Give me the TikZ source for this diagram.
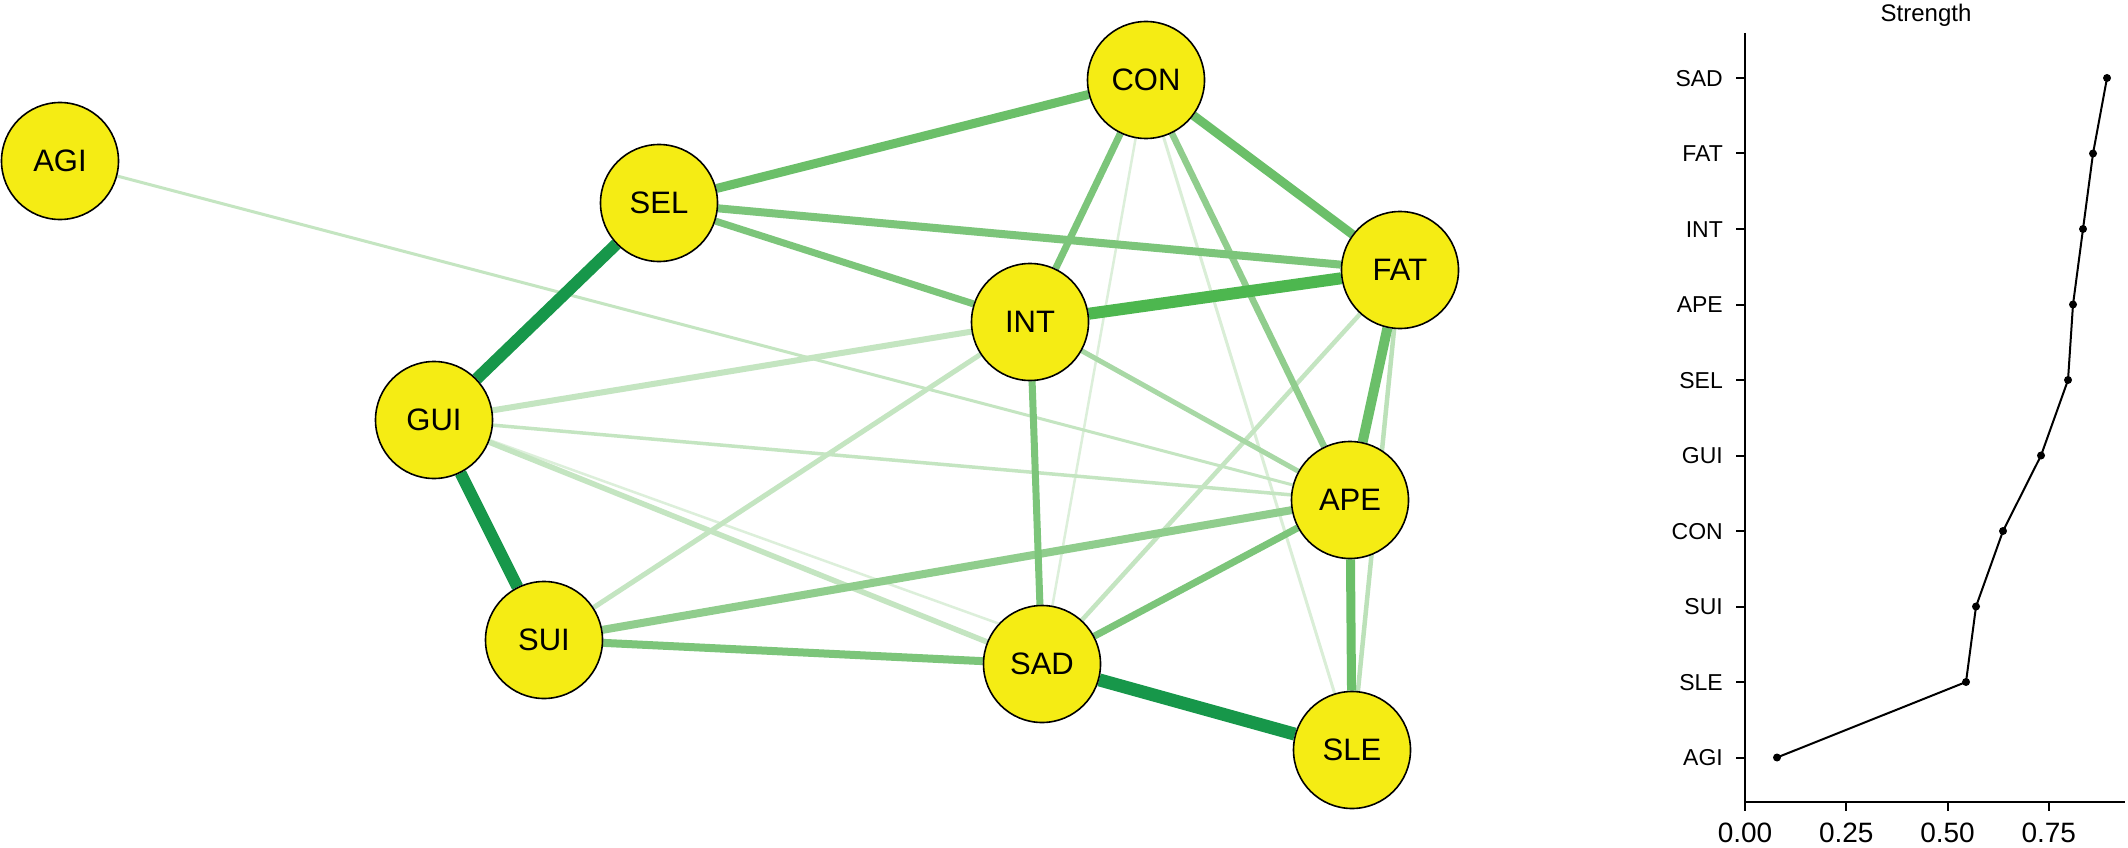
\documentclass[tikz,border=0pt]{standalone}
\usepackage{fontspec}
\setmainfont{Liberation Sans}
\usetikzlibrary{backgrounds}
\definecolor{nodeyellow}{HTML}{F5EC14}
\definecolor{gA}{HTML}{17974A}
\definecolor{gB}{HTML}{4DB74F}
\definecolor{gC}{HTML}{6BBF69}
\definecolor{gD}{HTML}{7CC57A}
\definecolor{gE}{HTML}{90CD8D}
\definecolor{gF}{HTML}{A8D8A5}
\definecolor{gG}{HTML}{C4E5C1}
\definecolor{gH}{HTML}{DCEFDA}
\pgfdeclarelayer{bottom}
\pgfsetlayers{bottom,background,main}
\begin{document}
\begin{tikzpicture}[x=1pt,y=-1pt,
  vnode/.style={circle,draw=black,line width=1.6pt,fill=nodeyellow,minimum size=117pt,inner sep=0pt,font=\fontsize{31}{31}\selectfont},
  edge/.style={line width=#1},
  ylab/.style={anchor=base east,inner sep=0pt,font=\fontsize{23}{23}\selectfont},
  xlab/.style={anchor=base,inner sep=0pt,font=\fontsize{28}{28}\selectfont},
  axisline/.style={line width=2pt,black},
  pt/.style={fill=black}
]
\begin{pgfonlayer}{bottom}
\fill[white] (0,0) rectangle (2128,848);
\end{pgfonlayer}
\useasboundingbox (0,0) rectangle (2128,848);

% network nodes
\node[vnode] (AGI) at (60,161) {AGI};
\node[vnode] (SEL) at (659,203) {SEL};
\node[vnode] (CON) at (1146,80) {CON};
\node[vnode] (INT) at (1030,322) {INT};
\node[vnode] (FAT) at (1400,270) {FAT};
\node[vnode] (GUI) at (434,420) {GUI};
\node[vnode] (APE) at (1350,500) {APE};
\node[vnode] (SUI) at (544,640) {SUI};
\node[vnode] (SAD) at (1042,664) {SAD};
\node[vnode] (SLE) at (1352,750) {SLE};

\begin{pgfonlayer}{background}
% faint edges
\draw[gH,edge=2.5pt] (GUI) -- (SAD.137);
\draw[gH,edge=2.5pt] (CON) -- (SAD);
\draw[gH!90!gG,edge=3pt] (CON) -- (SLE);
\draw[gG,edge=3pt] (AGI) -- (APE);
\draw[gG,edge=3.5pt] (GUI) -- (APE);
\draw[gG,edge=4.5pt] (FAT) -- (SAD);
\draw[gG!70!gF,edge=4.5pt] (FAT) -- (SLE);
\draw[gG,edge=5pt] (SUI) -- (INT);
\draw[gG,edge=5.5pt] (GUI) -- (SAD);
\draw[gG,edge=6pt] (GUI) -- (INT);
\draw[gF,edge=5pt] (INT) -- (APE);
\draw[gE,edge=6.5pt] (CON) -- (APE);
\draw[gE,edge=8pt] (SUI) -- (APE);
% medium edges
\draw[gD,edge=7pt] (APE) -- (SAD);
\draw[gD,edge=7pt] (INT) -- (SAD);
\draw[gD,edge=8pt] (SUI) -- (SAD);
\draw[gD,edge=7pt] (SEL) -- (INT);
\draw[gD,edge=7pt] (CON) -- (INT);
\draw[gD,edge=8pt] (SEL) -- (FAT);
\draw[gC,edge=9pt] (APE) -- (SLE);
\draw[gC,edge=10pt] (FAT) -- (APE);
\draw[gC,edge=9pt] (CON) -- (FAT);
\draw[gC,edge=9pt] (SEL) -- (CON);
% strong edges
\draw[gB,edge=12pt] (INT) -- (FAT);
\draw[gA,edge=12pt] (SEL) -- (GUI);
\draw[gA,edge=12pt] (GUI) -- (SUI);
\draw[gA,edge=13pt] (SAD) -- (SLE);
\end{pgfonlayer}

% strength plot
\node[anchor=base,inner sep=0pt,font=\fontsize{24}{24}\selectfont] (title) at (1926,22) {Strength};
\coordinate (o) at (1745,802);
\coordinate (ytop) at (1745,33);
\coordinate (xend) at (2125,802);
\draw[axisline] (ytop) -- (o) -- (xend);

\foreach \lab/\yy in {SAD/78,FAT/153.5,INT/229,APE/304.5,SEL/380,GUI/455.5,CON/531,SUI/606.5,SLE/682,AGI/757.5}{
  \draw[axisline] (1745,\yy) -- (1736,\yy);
  \node[ylab] (yl\lab) at (1723,\yy+8.2) {\lab};
}
\foreach \xx/\lab in {1745/0.00,1846.25/0.25,1947.5/0.50,2048.75/0.75}{
  \draw[axisline] (\xx,802) -- (\xx,811);
  \node[xlab] at (\xx,842) {\lab};
}

\coordinate (pSAD) at (2107,78);
\coordinate (pFAT) at (2093,153.5);
\coordinate (pINT) at (2083,229);
\coordinate (pAPE) at (2073,304.5);
\coordinate (pSEL) at (2068,380);
\coordinate (pGUI) at (2041,455.5);
\coordinate (pCON) at (2003,531);
\coordinate (pSUI) at (1976,606.5);
\coordinate (pSLE) at (1966,682);
\coordinate (pAGI) at (1777,757.5);
\draw[line width=2pt,line join=round] (pSAD) -- (pFAT) -- (pINT) -- (pAPE) -- (pSEL) -- (pGUI) -- (pCON) -- (pSUI) -- (pSLE) -- (pAGI);
\foreach \p in {pSAD,pFAT,pINT,pAPE,pSEL,pGUI,pCON,pSUI,pSLE,pAGI}{
  \fill[pt] (\p) circle (4pt);
}
\end{tikzpicture}
\end{document}
